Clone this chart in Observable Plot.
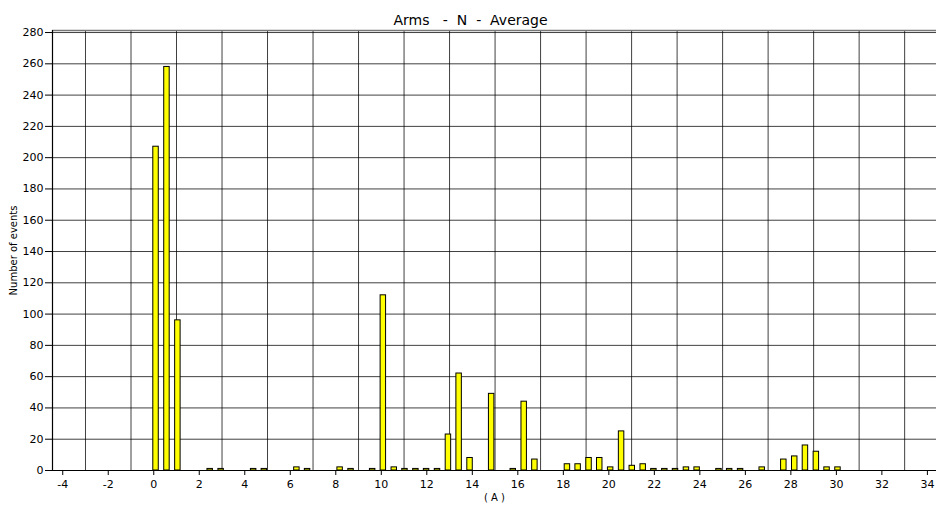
<!DOCTYPE html>
<html>
<head>
<meta charset="utf-8">
<script src="https://cdn.jsdelivr.net/npm/d3@7"></script>
<script src="https://cdn.jsdelivr.net/npm/@observablehq/plot@0.6"></script>
<style>
  html, body { margin: 0; padding: 0; background: #fff; }
  #chart svg { display: block; }
</style>
</head>
<body>
<div id="chart"></div>
<script>
const title = "Arms   -  N  -  Average";
const yLabel = "Number of events";
const xLabel = "( A )";

// bin centres (A) and event counts
const binCenters = [0.10, 0.58, 1.06, 2.48, 2.96, 4.39, 4.86, 6.29, 6.76, 8.19, 8.67, 9.62,
  10.09, 10.57, 11.04, 11.52, 11.99, 12.47, 12.95, 13.42, 13.90, 14.85, 15.80, 16.28, 16.75,
  18.18, 18.65, 19.13, 19.60, 20.08, 20.56, 21.03, 21.51, 21.98, 22.46, 22.93, 23.41, 23.88,
  24.84, 25.31, 25.79, 26.74, 27.69, 28.17, 28.64, 29.12, 29.59, 30.07];
const counts = [207, 258, 96, 1, 1, 1, 1, 2, 1, 2, 1, 1,
  112, 2, 1, 1, 1, 1, 23, 62, 8, 49, 1, 44, 7,
  4, 4, 8, 8, 2, 25, 3, 4, 1, 1, 1, 2, 2,
  1, 1, 1, 2, 7, 9, 16, 12, 2, 2];

const xTicks = d3.range(-4, 35, 2);
const xGrid = d3.range(-3, 35, 2);
const yTicks = d3.range(0, 281, 20);

const data = binCenters.map((x, i) => ({x, count: counts[i]}));
const halfBar = 0.12;
const xDomain = [-4.45, 34.4];
const yMax = 281.3;

const chart = Plot.plot({
  width: 936,
  height: 509,
  marginTop: 30,
  marginBottom: 39,
  marginLeft: 52,
  marginRight: 0,
  style: {fontFamily: "DejaVu Sans", fontSize: "11px", background: "#fff", color: "#000"},
  x: {domain: xDomain},
  y: {domain: [0, yMax]},
  marks: [
    Plot.gridY(yTicks, {stroke: "#000", strokeOpacity: 0.75, strokeWidth: 1}),
    Plot.gridX(xGrid, {stroke: "#000", strokeOpacity: 0.75, strokeWidth: 1}),
    Plot.ruleY([yMax], {stroke: "#777", strokeWidth: 1.5}),
    Plot.rect(data, {
      x1: d => d.x - halfBar,
      x2: d => d.x + halfBar,
      y1: d => 0,
      y2: "count",
      fill: "#ffff00",
      stroke: "#000",
      strokeWidth: 1
    }),
    Plot.axisY(yTicks, {tickSize: 7, tickPadding: 2, label: null, fontSize: 11, tickFormat: d => String(d)}),
    Plot.axisX(xTicks, {tickSize: 5, tickPadding: 5, label: null, fontSize: 11, tickFormat: d => String(d)}),
    Plot.ruleY([0], {stroke: "#000", strokeWidth: 1.2}),
    Plot.ruleX([xDomain[0]], {stroke: "#000", strokeWidth: 1.2}),
    Plot.text([title], {frameAnchor: "top", dx: -24, dy: -15, fontSize: 14, text: d => d, fill: "#000", style: "white-space: pre"}),
    Plot.text([yLabel], {frameAnchor: "left", textAnchor: "middle", dx: -39, rotate: -90, fontSize: 10, text: d => d, fill: "#000"}),
    Plot.text([xLabel], {frameAnchor: "bottom", dy: 30, fontSize: 10, text: d => d, fill: "#000", style: "white-space: pre"})
  ]
});
document.getElementById("chart").appendChild(chart);
</script>
</body>
</html>
